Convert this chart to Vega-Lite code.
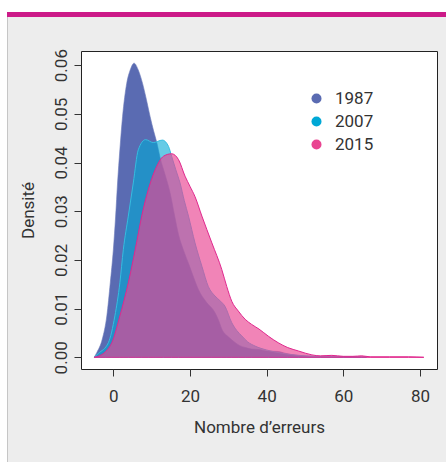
{
  "$schema": "https://vega.github.io/schema/vega-lite/v6.json",
  "background": "#ededed",
  "padding": 0,
  "spacing": 0,
  "datasets": {
    "cadre": [{"partie": "cadre"}],
    "dens": [
      {"annee": "1987", "erreurs": -5, "densite": 0},
      {"annee": "1987", "erreurs": -4.3, "densite": 0.001},
      {"annee": "1987", "erreurs": -2.9, "densite": 0.0037},
      {"annee": "1987", "erreurs": -1.7, "densite": 0.0085},
      {"annee": "1987", "erreurs": -0.8, "densite": 0.0153},
      {"annee": "1987", "erreurs": 0, "densite": 0.0221},
      {"annee": "1987", "erreurs": 0.6, "densite": 0.029},
      {"annee": "1987", "erreurs": 1.1, "densite": 0.0358},
      {"annee": "1987", "erreurs": 1.7, "densite": 0.0426},
      {"annee": "1987", "erreurs": 2.4, "densite": 0.0494},
      {"annee": "1987", "erreurs": 3.5, "densite": 0.0563},
      {"annee": "1987", "erreurs": 4.4, "densite": 0.059},
      {"annee": "1987", "erreurs": 5.4, "densite": 0.0604},
      {"annee": "1987", "erreurs": 6.5, "densite": 0.059},
      {"annee": "1987", "erreurs": 7.6, "densite": 0.0563},
      {"annee": "1987", "erreurs": 8.6, "densite": 0.053},
      {"annee": "1987", "erreurs": 9.6, "densite": 0.0494},
      {"annee": "1987", "erreurs": 10.5, "densite": 0.0465},
      {"annee": "1987", "erreurs": 11.3, "densite": 0.0442},
      {"annee": "1987", "erreurs": 12.2, "densite": 0.041},
      {"annee": "1987", "erreurs": 13.5, "densite": 0.0375},
      {"annee": "1987", "erreurs": 14.8, "densite": 0.0338},
      {"annee": "1987", "erreurs": 16, "densite": 0.029},
      {"annee": "1987", "erreurs": 17, "densite": 0.0252},
      {"annee": "1987", "erreurs": 18.3, "densite": 0.022},
      {"annee": "1987", "erreurs": 19.6, "densite": 0.0193},
      {"annee": "1987", "erreurs": 21, "densite": 0.0163},
      {"annee": "1987", "erreurs": 22.2, "densite": 0.0139},
      {"annee": "1987", "erreurs": 24.3, "densite": 0.0113},
      {"annee": "1987", "erreurs": 26.5, "densite": 0.0092},
      {"annee": "1987", "erreurs": 27.5, "densite": 0.0075},
      {"annee": "1987", "erreurs": 28.3, "densite": 0.0058},
      {"annee": "1987", "erreurs": 30, "densite": 0.0042},
      {"annee": "1987", "erreurs": 31.5, "densite": 0.0032},
      {"annee": "1987", "erreurs": 33, "densite": 0.0024},
      {"annee": "1987", "erreurs": 34.5, "densite": 0.002},
      {"annee": "1987", "erreurs": 36, "densite": 0.0017},
      {"annee": "1987", "erreurs": 38, "densite": 0.0016},
      {"annee": "1987", "erreurs": 40, "densite": 0.0013},
      {"annee": "1987", "erreurs": 43, "densite": 0.0012},
      {"annee": "1987", "erreurs": 45, "densite": 0.0008},
      {"annee": "1987", "erreurs": 48, "densite": 0.0004},
      {"annee": "1987", "erreurs": 52, "densite": 0.0002},
      {"annee": "1987", "erreurs": 58, "densite": 0.0001},
      {"annee": "1987", "erreurs": 66, "densite": 0},
      {"annee": "2007", "erreurs": -5, "densite": 0},
      {"annee": "2007", "erreurs": -3.9, "densite": 0.0008},
      {"annee": "2007", "erreurs": -1.3, "densite": 0.003},
      {"annee": "2007", "erreurs": 0.4, "densite": 0.0085},
      {"annee": "2007", "erreurs": 1.7, "densite": 0.0153},
      {"annee": "2007", "erreurs": 2.6, "densite": 0.0221},
      {"annee": "2007", "erreurs": 3.9, "densite": 0.029},
      {"annee": "2007", "erreurs": 5.2, "densite": 0.0358},
      {"annee": "2007", "erreurs": 6.5, "densite": 0.0426},
      {"annee": "2007", "erreurs": 8.4, "densite": 0.0447},
      {"annee": "2007", "erreurs": 10.4, "densite": 0.0441},
      {"annee": "2007", "erreurs": 12.8, "densite": 0.0446},
      {"annee": "2007", "erreurs": 14.4, "densite": 0.0433},
      {"annee": "2007", "erreurs": 15.2, "densite": 0.0413},
      {"annee": "2007", "erreurs": 16.3, "densite": 0.0385},
      {"annee": "2007", "erreurs": 17.4, "densite": 0.0358},
      {"annee": "2007", "erreurs": 18.5, "densite": 0.0322},
      {"annee": "2007", "erreurs": 19.6, "densite": 0.029},
      {"annee": "2007", "erreurs": 21.3, "densite": 0.0235},
      {"annee": "2007", "erreurs": 23.1, "densite": 0.0187},
      {"annee": "2007", "erreurs": 24.8, "densite": 0.0145},
      {"annee": "2007", "erreurs": 26.5, "densite": 0.0126},
      {"annee": "2007", "erreurs": 28, "densite": 0.0115},
      {"annee": "2007", "erreurs": 29.1, "densite": 0.0105},
      {"annee": "2007", "erreurs": 30.9, "densite": 0.0071},
      {"annee": "2007", "erreurs": 32.2, "densite": 0.0055},
      {"annee": "2007", "erreurs": 33.5, "densite": 0.0044},
      {"annee": "2007", "erreurs": 35, "densite": 0.0032},
      {"annee": "2007", "erreurs": 37, "densite": 0.0023},
      {"annee": "2007", "erreurs": 40, "densite": 0.0015},
      {"annee": "2007", "erreurs": 42.2, "densite": 0.0011},
      {"annee": "2007", "erreurs": 46, "densite": 0.0006},
      {"annee": "2007", "erreurs": 50, "densite": 0.0003},
      {"annee": "2007", "erreurs": 56, "densite": 0.0001},
      {"annee": "2007", "erreurs": 62, "densite": 0.0001},
      {"annee": "2007", "erreurs": 66, "densite": 0},
      {"annee": "2015", "erreurs": -5, "densite": 0},
      {"annee": "2015", "erreurs": -4, "densite": 0.0002},
      {"annee": "2015", "erreurs": -2, "densite": 0.0012},
      {"annee": "2015", "erreurs": -0.4, "densite": 0.003},
      {"annee": "2015", "erreurs": 1.7, "densite": 0.0085},
      {"annee": "2015", "erreurs": 3.9, "densite": 0.0153},
      {"annee": "2015", "erreurs": 5.7, "densite": 0.0221},
      {"annee": "2015", "erreurs": 7.4, "densite": 0.029},
      {"annee": "2015", "erreurs": 9.1, "densite": 0.0344},
      {"annee": "2015", "erreurs": 10.9, "densite": 0.0385},
      {"annee": "2015", "erreurs": 13.1, "densite": 0.0413},
      {"annee": "2015", "erreurs": 15.2, "densite": 0.0418},
      {"annee": "2015", "erreurs": 17, "densite": 0.0406},
      {"annee": "2015", "erreurs": 18.7, "densite": 0.0372},
      {"annee": "2015", "erreurs": 20, "densite": 0.0351},
      {"annee": "2015", "erreurs": 21.3, "densite": 0.033},
      {"annee": "2015", "erreurs": 23.1, "densite": 0.029},
      {"annee": "2015", "erreurs": 25.7, "densite": 0.0235},
      {"annee": "2015", "erreurs": 28.3, "densite": 0.018},
      {"annee": "2015", "erreurs": 29.6, "densite": 0.0145},
      {"annee": "2015", "erreurs": 30.9, "densite": 0.0115},
      {"annee": "2015", "erreurs": 32.6, "densite": 0.0095},
      {"annee": "2015", "erreurs": 34.4, "densite": 0.0078},
      {"annee": "2015", "erreurs": 36, "densite": 0.0068},
      {"annee": "2015", "erreurs": 38, "densite": 0.0058},
      {"annee": "2015", "erreurs": 40.5, "densite": 0.0043},
      {"annee": "2015", "erreurs": 43, "densite": 0.003},
      {"annee": "2015", "erreurs": 45.5, "densite": 0.002},
      {"annee": "2015", "erreurs": 48.3, "densite": 0.0013},
      {"annee": "2015", "erreurs": 51.8, "densite": 0.0005},
      {"annee": "2015", "erreurs": 54, "densite": 0.0003},
      {"annee": "2015", "erreurs": 57, "densite": 0.0004},
      {"annee": "2015", "erreurs": 60, "densite": 0.0002},
      {"annee": "2015", "erreurs": 62.5, "densite": 0.0002},
      {"annee": "2015", "erreurs": 64.8, "densite": 0.0003},
      {"annee": "2015", "erreurs": 67, "densite": 0.0001},
      {"annee": "2015", "erreurs": 72, "densite": 0.0001},
      {"annee": "2015", "erreurs": 77, "densite": 0.0001},
      {"annee": "2015", "erreurs": 81, "densite": 0}
    ]
  },
  "hconcat": [
    {
      "width": 7, "height": 462,
      "data": {"name": "cadre"},
      "mark": {"type": "rect", "fill": "#ffffff", "strokeWidth": 0},
      "encoding": {}
    },
    {
      "spacing": 0,
      "vconcat": [
        {
          "width": 439, "height": 12,
          "data": {"name": "cadre"},
          "mark": {"type": "rect", "fill": "#ffffff", "strokeWidth": 0},
          "encoding": {}
        },
        {
          "width": 439, "height": 5,
          "data": {"name": "cadre"},
          "mark": {"type": "rect", "fill": "#cc1a88", "strokeWidth": 0},
          "encoding": {}
        },
        {
          "spacing": 73,
          "bounds": "flush",
          "hconcat": [
            {
              "width": 1, "height": 445,
              "data": {"name": "cadre"},
              "mark": {"type": "rect", "fill": "#c6c6c6", "strokeWidth": 0},
              "encoding": {}
            },
            {
              "spacing": 0,
              "bounds": "flush",
              "vconcat": [
                {
                  "width": 356, "height": 34,
                  "data": {"name": "cadre"},
                  "mark": {"type": "rect", "fill": "#ededed", "strokeWidth": 0},
                  "encoding": {}
                },
                {
                  "width": 356, "height": 318,
                  "view": {"fill": "#ffffff", "stroke": "#222222", "strokeWidth": 1},
                  "data": {"name": "dens"},
                  "encoding": {
                    "x": {
                      "field": "erreurs", "type": "quantitative",
                      "scale": {"domain": [-8.44, 84.44], "nice": false, "zero": false},
                      "axis": {"values": [0, 20, 40, 60, 80], "title": "Nombre d’erreurs", "labelPadding": 12, "titlePadding": 15, "labelFlush": false}
                    },
                    "y": {
                      "field": "densite", "type": "quantitative",
                      "scale": {"domain": [-0.0024, 0.0629], "nice": false, "zero": false},
                      "axis": {"values": [0, 0.01, 0.02, 0.03, 0.04, 0.05, 0.06], "format": ".2f", "title": "Densité", "labelAngle": 270, "labelAlign": "center", "labelBaseline": "alphabetic", "labelPadding": 8, "titlePadding": 15}
                    },
                    "y2": {"datum": 0},
                    "color": {
                      "field": "annee", "type": "nominal",
                      "scale": {"domain": ["1987", "2007", "2015"], "range": ["#5a6bb2", "#00a8d6", "#e94491"]},
                      "legend": {"orient": "none", "legendX": 308, "legendY": 90, "title": null, "symbolType": "circle", "symbolSize": 100, "symbolOpacity": 1, "symbolStrokeWidth": 0, "labelFontSize": 17, "labelColor": "#333333", "labelOffset": 10, "rowPadding": 5, "padding": 0}
                    }
                  },
                  "layer": [
                    {
                      "transform": [{"filter": "datum.annee === '1987'"}],
                      "mark": {"type": "area", "interpolate": "monotone", "clip": true, "fillOpacity": 1, "stroke": "#6a78b8", "strokeWidth": 0.6}
                    },
                    {
                      "transform": [{"filter": "datum.annee === '2007'"}],
                      "mark": {"type": "area", "interpolate": "monotone", "clip": true, "fillOpacity": 0.6, "stroke": "#35bde0", "strokeWidth": 1}
                    },
                    {
                      "transform": [{"filter": "datum.annee === '2015'"}],
                      "mark": {"type": "area", "interpolate": "monotone", "clip": true, "fillOpacity": 0.66, "stroke": "#e0288e", "strokeWidth": 1}
                    }
                  ]
                }
              ]
            }
          ]
        }
      ]
    }
  ],
  "config": {
    "view": {"stroke": null},
    "concat": {"spacing": 0},
    "axis": {
      "domain": false, "grid": false, "ticks": true,
      "tickColor": "#333333", "tickSize": 7, "tickWidth": 1,
      "labelColor": "#333333", "titleColor": "#333333",
      "labelFontSize": 17, "titleFontSize": 17, "titleFontWeight": "normal",
      "labelFont": "Roboto, sans-serif",
      "titleFont": "Roboto, sans-serif"
    },
    "legend": {
      "labelFont": "Roboto, sans-serif"
    }
  }
}
